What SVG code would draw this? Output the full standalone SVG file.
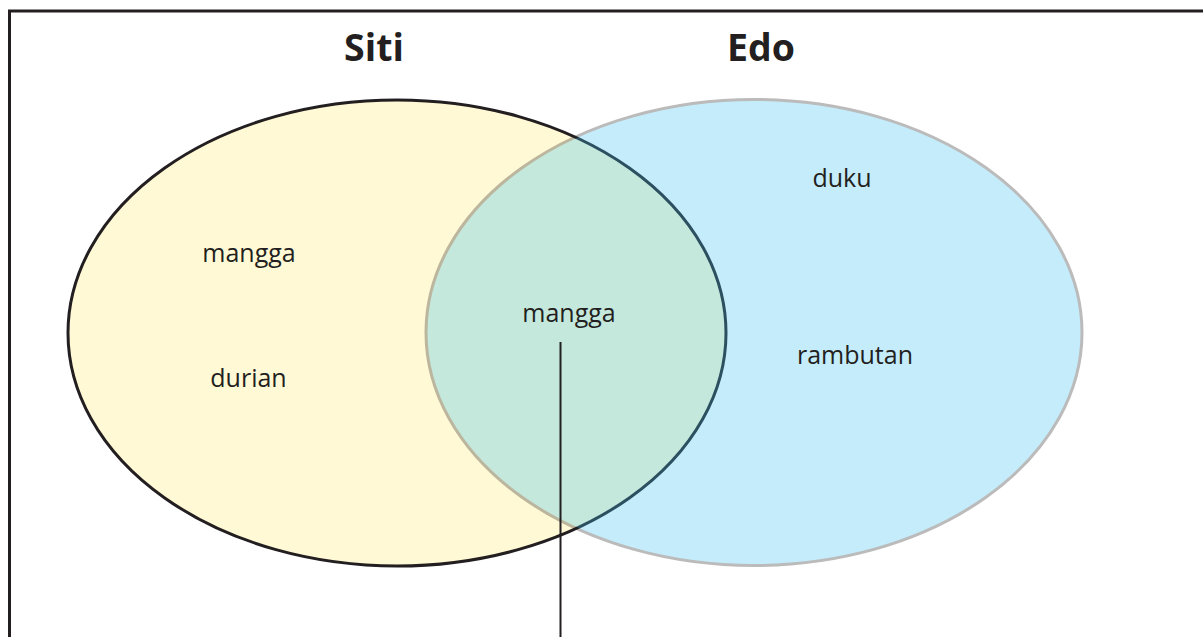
<svg xmlns="http://www.w3.org/2000/svg" width="1203" height="637" viewBox="0 0 1203 637">
<style>
.title{font-family:"Open Sans","Noto Sans","Liberation Sans",sans-serif;font-weight:bold;font-size:37.5px;fill:#231f20;text-anchor:middle}
.lbl{font-family:"Open Sans","Noto Sans","Liberation Sans",sans-serif;font-size:25px;fill:#231f20;text-anchor:middle}
</style>
<rect width="1203" height="637" fill="#ffffff"/>
<rect id="frame" x="9.5" y="11" width="1250" height="700" fill="none" stroke="#231f20" stroke-width="3"/>
<g id="siti">
<ellipse cx="397" cy="333" rx="329" ry="233" fill="#fff9d5" stroke="#231f20" stroke-width="3"/>
<text class="title" x="374" y="60.5">Siti</text>
</g>
<g id="edo">
<g opacity="0.3">
<ellipse cx="754" cy="332.5" rx="328" ry="233" fill="#41c3f2" stroke="#202020" stroke-width="3"/>
</g>
<text class="title" x="761" y="60.5">Edo</text>
</g>
<g id="siti-items">
<text class="lbl" x="249" y="262">mangga</text>
<text class="lbl" x="248.5" y="386.5">durian</text>
</g>
<g id="edo-items">
<text class="lbl" x="842" y="186.5">duku</text>
<text class="lbl" x="855" y="364">rambutan</text>
</g>
<g id="both-items">
<text class="lbl" x="569" y="321.5">mangga</text>
</g>
<g id="connectors">
<line x1="560.5" y1="342" x2="560.5" y2="640" stroke="#231f20" stroke-width="2"/>
</g>
</svg>
